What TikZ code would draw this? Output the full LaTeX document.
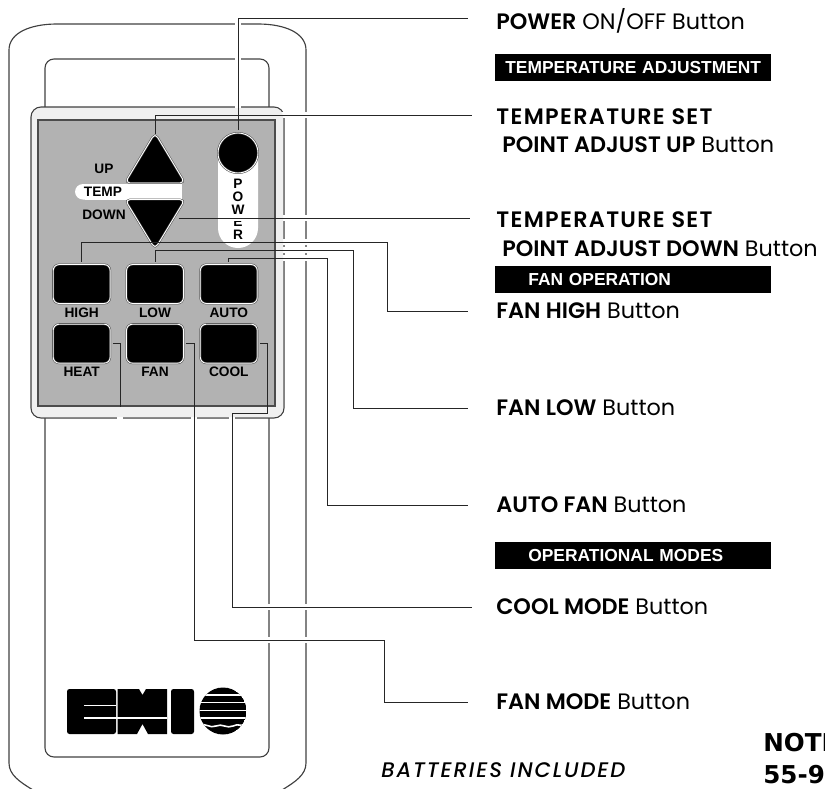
\documentclass[tikz,border=0pt]{standalone}
\usepackage{fontspec}
\usetikzlibrary{calc, positioning, shapes.geometric, arrows.meta}
\setmainfont{Liberation Sans}
\newfontfamily\lblfont{Poppins}[BoldFont=Poppins SemiBold, ItalicFont=Poppins Medium Italic]
\newfontfamily\notefont{DejaVu Sans}[BoldFont=DejaVu Sans Bold]
\definecolor{panelgray}{HTML}{B2B2B2}
\definecolor{panellight}{HTML}{F0F0F0}
\pgfdeclarelayer{back}
\pgfdeclarelayer{halo}
\pgfsetlayers{back,halo,main}

% every leader line, drawn once as a white gap and once in black
\newcommand{\leadlines}[1]{
    \draw[#1] (powerbtn.north) |- (powerend);
    \draw[#1] (upbtn) |- (upend);
    \draw[#1] (downbtn) -- (downend);
    \draw[#1] (highbtn.north) |- (highbend) |- (highend);
    \draw[#1] (lowbtn.north) |- (lowbend) |- (lowend);
    \draw[#1] (autobtn.north) |- (autobend) |- (autoend);
    \draw[#1] (heatbtn.east) -| (heatend);
    \draw[#1] (fanbtn.east) -| (fanbend) -| (fanturn) |- (fanend);
    \draw[#1] (coolbtn.east) -| (coolbend) -| (coolturn) |- (coolend);
}
\newcommand{\widecaps}[1]{{\addfontfeature{LetterSpace=6}#1}}

\begin{document}
\begin{tikzpicture}[
        x=0.02cm, y=-0.02cm,
        outl/.style={draw=black!75, line width=0.65pt},
        btn/.style={
            rectangle, rounded corners=0.12cm, fill=black, draw=black!70, line width=0.3pt,
            double=white, double distance=0.5pt,
            minimum width=1.14cm, minimum height=0.78cm, inner sep=0pt
        },
        tribtn/.style={
            fill=black, draw=black!70, line width=0.3pt,
            double=white, double distance=0.5pt, rounded corners=0.1cm
        },
        btnlabel/.style={
            font=\bfseries\fontsize{7.8}{9}\selectfont, inner sep=0pt, label distance=0.07cm
        },
        lbl/.style={
            font=\lblfont\fontsize{12.7}{16.2}\selectfont, anchor=west, inner sep=0pt, align=left
        },
        sect/.style={
            fill=black, text=white, font=\bfseries\fontsize{9.9}{11}\selectfont,
            anchor=north west, inner xsep=0pt, inner ysep=0pt,
            text width=5.52cm, minimum height=0.54cm, align=left
        },
        leader/.style={draw=black!85, line width=0.55pt, shorten <=0.05cm},
        gap/.style={draw=white, line width=3.8pt}
    ]
    \useasboundingbox (0,0) rectangle (825,788);

    % Body outlines
    \begin{pgfonlayer}{back}
    \draw[outl] (9,50) .. controls (9,33) and (30,24) .. (57,24) -- (258,24)
        .. controls (285,24) and (306,33) .. (306,50) -- (306,763)
        .. controls (306,775) and (295,782) .. (282,790) -- (33,790)
        .. controls (20,782) and (9,775) .. (9,763) -- cycle;
    \draw[outl, rounded corners=0.18cm] (45,59) rectangle (269,757);
    \draw[outl, fill=panellight, rounded corners=0.2cm] (31,107) rectangle (284,418);
    \end{pgfonlayer}

    % Panel
    \fill[panellight, rounded corners=0.18cm] (32,108) rectangle (283,417);
    \draw[draw=black!70, line width=0.9pt, fill=panelgray] (38,120) rectangle (275,406);

    % Temp band and power pill
    \fill[white, rounded corners=0.16cm] (75,184) rectangle (100,199.5);
    \fill[white] (85,184) rectangle (182,199.5);
    \fill[white] (218,152) -- (218,228) arc (180:0:20) -- (258,152) -- cycle;

    % Temperature buttons
    \draw[tribtn] (155,133) -- (185,183) -- (125,183) -- cycle;
    \draw[tribtn] (125,199.5) -- (185,199.5) -- (155,249) -- cycle;
    \coordinate (upbtn) at (155,136);
    \coordinate (downbtn) at (176,218);
    \node[font=\bfseries\fontsize{7.8}{9}\selectfont] (uptxt) at (104,169) {UP};
    \node[font=\bfseries\fontsize{7.8}{9}\selectfont] (temptxt) at (103,192) {TEMP};
    \node[font=\bfseries\fontsize{7.8}{9}\selectfont] (downtxt) at (104,215) {DOWN};

    % Power button
    \node[circle, fill=black, draw=black!70, line width=0.3pt, double=white, double distance=0.5pt,
        minimum size=0.8cm, inner sep=0pt] (powerbtn) at (238,153) {};
    \node[font=\bfseries\fontsize{7.8}{7.2}\selectfont, align=center, inner sep=0pt] (powertxt) at (238,209.5)
        {P\\O\\W\\E\\R};
    \draw[gap] (230,218) -- (246,218);

    % Fan buttons
    \node[btn, label={[btnlabel]below:HIGH}] (highbtn) at (81.7,284) {};
    \node[btn, label={[btnlabel]below:LOW}] (lowbtn) at (155,284) {};
    \node[btn, label={[btnlabel]below:AUTO}] (autobtn) at (228.8,284) {};

    % Mode buttons
    \node[btn, label={[btnlabel]below:HEAT}] (heatbtn) at (81.7,343.7) {};
    \node[btn, label={[btnlabel]below:FAN}] (fanbtn) at (155,343.7) {};
    \node[btn, label={[btnlabel]below:COOL}] (coolbtn) at (228.8,343.7) {};

    % Logo
    \fill[black, rounded corners=0.05cm] (67,689) rectangle (116,734);
    \fill[black] (117.5,689) -- (139,689) -- (142.5,695) -- (146,689) -- (167,689)
        -- (167,734) -- (148,734) -- (142.5,724) -- (137,734) -- (117.5,734) -- cycle;
    \fill[black, rounded corners=0.05cm] (171,689) rectangle (194,734);
    \draw[white, line width=0.8pt] (84,705.5) -- (116,705.5);
    \draw[white, line width=0.8pt] (84,718) -- (167,718);
    \begin{scope}
        \clip (223,711) circle (23.5);
        \fill[black] (223,711) circle (23.5);
        \draw[white, line width=0.8pt] (199,695) -- (247,695);
        \draw[white, line width=0.8pt] (199,702.5) -- (247,702.5);
        \draw[white, line width=0.9pt] (199,710.5) -- (247,710.5);
        \draw[white, line width=0.8pt] (199,718) -- (247,718);
        \draw[white, line width=0.9pt] (199,725.5) .. controls (205,722) and (210,729) .. (216,726)
            .. controls (222,723) and (227,729) .. (233,726) .. controls (238,723) and (243,727) .. (247,725);
    \end{scope}

    % Right column labels
    \node[lbl] (powerlab) at (496,21) {\textbf{POWER} ON/OFF Button};
    \node[sect] (tempsect) at (495,54) {\hspace*{0.2cm}TEMPERATURE ADJUSTMENT};
    \node[lbl] (uplab) at (496,130.5) {\textbf{\widecaps{TEMPERATURE SET}}\\\hspace*{0.12cm}\textbf{POINT ADJUST UP} Button};
    \node[lbl] (downlab) at (496,234) {\textbf{\widecaps{TEMPERATURE SET}}\\\hspace*{0.12cm}\textbf{POINT ADJUST DOWN} Button};
    \node[sect] (fansect) at (495,266) {\hspace*{0.66cm}FAN OPERATION};
    \node[lbl] (highlab) at (496,311) {\textbf{FAN HIGH} Button};
    \node[lbl] (lowlab) at (496,408) {\textbf{FAN LOW} Button};
    \node[lbl] (autolab) at (496,505) {\textbf{AUTO FAN} Button};
    \node[sect] (modesect) at (495,541.5) {\hspace*{0.66cm}OPERATIONAL MODES};
    \node[lbl] (coollab) at (496,607) {\textbf{COOL MODE} Button};
    \node[lbl] (fanlab) at (496,702) {\textbf{FAN MODE} Button};
    \node[lbl, font=\lblfont\itshape\addfontfeature{LetterSpace=9}\fontsize{12}{14}\selectfont] (battlab) at (381,770) {BATTERIES INCLUDED};
    \node[anchor=north west, inner sep=0pt, align=left, font=\notefont\bfseries\fontsize{14}{18}\selectfont]
        (notelab) at (763,733) {NOTE\\55-9};

    % Leader ends and bends
    \coordinate (powerend) at (468,18);
    \coordinate (upend) at (472,115);
    \coordinate (downend) at (470,218);
    \coordinate (highbend) at (387,242);
    \coordinate (highend) at (468,311);
    \coordinate (lowbend) at (353,250);
    \coordinate (lowend) at (468,408);
    \coordinate (autobend) at (327,258);
    \coordinate (autoend) at (468,505);
    \coordinate (heatend) at (120,407);
    \coordinate (fanbend) at (194,640);
    \coordinate (fanturn) at (384,702);
    \coordinate (fanend) at (468,702);
    \coordinate (coolbend) at (267,413);
    \coordinate (coolturn) at (232,607);
    \coordinate (coolend) at (472,607);

    % Gaps in the outlines behind the leaders
    \begin{pgfonlayer}{halo}
    \leadlines{gap}
    \draw[gap] (heatend) -- (120,424);
    \end{pgfonlayer}

    % Leader lines
    \leadlines{leader}

\end{tikzpicture}
\end{document}
